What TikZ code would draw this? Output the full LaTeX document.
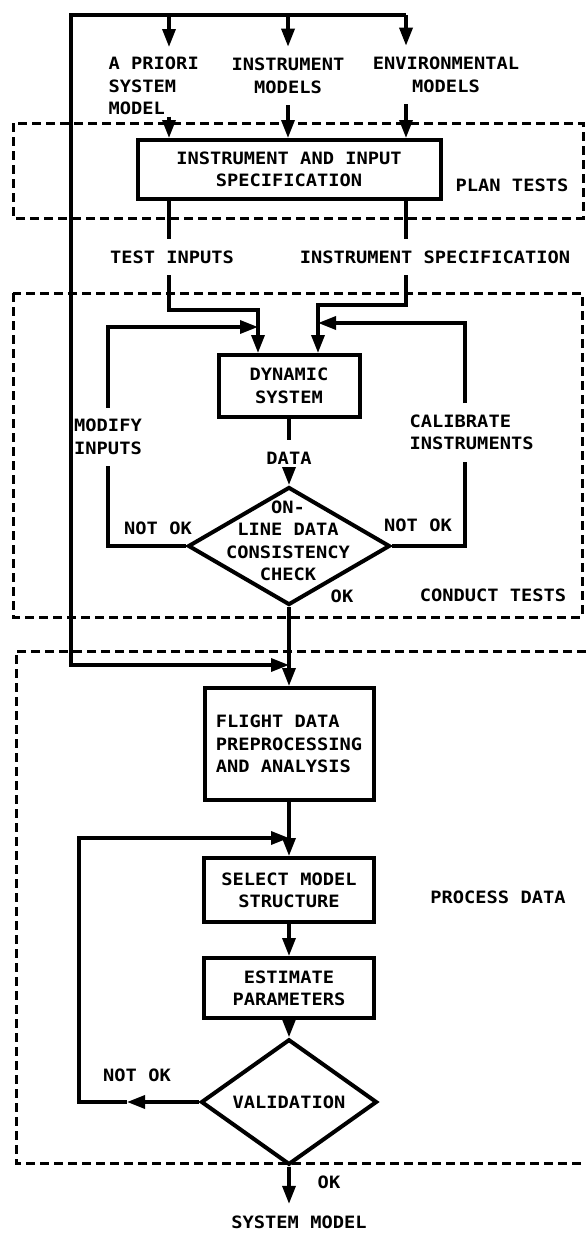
\documentclass[tikz,border=0pt]{standalone}
\usepackage{fontspec}
\newfontfamily\diafont[FakeStretch=1.1]{DejaVu Sans Mono}
\usetikzlibrary{arrows.meta,shapes.geometric}

\begin{document}
\begin{tikzpicture}[x=0.5pt, y=-0.5pt, line width=1.7pt,
    >={Triangle[length=9pt,width=6.5pt]},
    every node/.style={font={\diafont\bfseries\fontsize{8.5}{11.2}\selectfont}},
    lbl/.style={inner sep=0pt, align=center},
    gap/.style={inner xsep=0pt, inner ysep=5pt, align=center},
    block/.style={draw, line width=2pt, inner sep=0pt, align=center},
    test/.style={draw, diamond, line width=2pt, inner sep=0pt},
    phase/.style={draw, line width=1.5pt, dash pattern=on 4.5pt off 2.5pt}]
    \useasboundingbox (0,0) rectangle (586,1233);

    % plan tests
    \node[lbl, align=left, anchor=west] (APR) at (107, 86) {A PRIORI\\SYSTEM\\MODEL};
    \node[gap] (INM) at (288, 76) {INSTRUMENT\\MODELS};
    \node[gap] (ENV) at (446, 75) {ENVIRONMENTAL\\MODELS};
    \node[block, minimum width=151.5pt, minimum height=29.5pt] (SPEC) at (289, 169.5) {INSTRUMENT AND INPUT\\SPECIFICATION};
    \node[lbl] (PT) at (512, 185) {PLAN TESTS};
    \node[gap] (TI) at (172, 257) {TEST INPUTS};
    \node[gap] (IS) at (435, 257) {INSTRUMENT SPECIFICATION};

    % conduct tests
    \node[block, minimum width=70.5pt, minimum height=31pt] (DYN) at (289, 386) {DYNAMIC\\SYSTEM};
    \node[gap] (DATA) at (289, 458) {DATA};
    \node[test, minimum width=101pt, minimum height=59pt] (CHK) at (289, 546) {};
    \node[lbl] (CHKT) at (288, 541) {ON-\\LINE DATA\\CONSISTENCY\\CHECK};
    \node[gap] (MI) at (108, 437) {MODIFY\\INPUTS};
    \node[gap, align=left, anchor=west] (CI) at (408, 432.5) {CALIBRATE\\INSTRUMENTS};
    \node[lbl] (NOK1) at (158, 528) {NOT OK};
    \node[lbl] (NOK2) at (418, 525) {NOT OK};
    \node[lbl] (OK1) at (342, 596) {OK};
    \node[lbl] (CT) at (493, 595) {CONDUCT TESTS};

    % process data
    \node[block, align=left, minimum width=84.5pt, minimum height=56pt] (FDP) at (289, 744) {FLIGHT DATA\\PREPROCESSING\\AND ANALYSIS};
    \node[block, minimum width=85pt, minimum height=32pt] (SEL) at (289, 890) {SELECT MODEL\\STRUCTURE};
    \node[block, minimum width=85pt, minimum height=30pt] (EST) at (289, 988) {ESTIMATE\\PARAMETERS};
    \node[test, minimum width=88pt, minimum height=55pt] (VAL) at (289, 1102) {VALIDATION};
    \node[lbl] (PD) at (498, 897) {PROCESS DATA};
    \node[lbl] (NOK3) at (137, 1075) {NOT OK};
    \node[lbl] (OK2) at (329, 1182) {OK};
    \node[gap] (SM) at (299, 1222) {SYSTEM MODEL};

    \coordinate (TL) at (71, 15);
    \coordinate (C1) at (169, 15);
    \coordinate (C2) at (288, 15);
    \coordinate (C3) at (406, 15);
    \coordinate (A1) at (169, 47);
    \coordinate (TJ) at (258, 310);
    \coordinate (IJ) at (318, 305);
    \coordinate (MJ) at (258, 327);
    \coordinate (CX) at (465, 323);
    \coordinate (CJ) at (318, 323);
    \coordinate (J1) at (289, 665);
    \coordinate (J2) at (289, 838);
    \coordinate (VL) at (127, 1102);
    \coordinate (LB) at (79, 1102);

    \draw[phase] (13, 123) rectangle (583, 218);
    \draw[phase] (13, 293) rectangle (582, 617);
    \draw[phase] (586, 651) -- (16, 651) -- (16, 1163) -- (586, 1163);

    \draw[->] (C3) -- (TL) |- (J1);
    \draw[->] (C1) -- (A1);
    \draw[->] (C2) -- (INM);
    \draw[->] (C3) -- (ENV.north -| C3);
    \draw[->] (C1 |- APR.south) -- (C1 |- SPEC.north);
    \draw[->] (INM.south -| C2) -- (C2 |- SPEC.north);
    \draw[->] (ENV.south -| C3) -- (C3 |- SPEC.north);
    \draw (C1 |- SPEC.south) -- (C1 |- TI.north);
    \draw (C3 |- SPEC.south) -- (C3 |- IS.north);
    \draw[->] (C1 |- TI.south) |- (TJ) -- (TJ |- DYN.north);
    \draw[->] (C3 |- IS.south) |- (IJ) -- (IJ |- DYN.north);

    \draw (DYN.south) -- (DATA.north);
    \draw[->] (DATA.south) -- (CHK.north);
    \draw (CHK.west) -| (MI.south);
    \draw[->] (MI.north) |- (MJ);
    \draw (CHK.east) -| (CX |- CI.south);
    \draw[->] (CX |- CI.north) -- (CX) -- (CJ);

    \draw[->] (CHK.south) -- (FDP.north);
    \draw[->] (FDP.south) -- (SEL.north);
    \draw[->] (SEL.south) -- (EST.north);
    \draw[->] (EST.south) -- (VAL.north);
    \draw[->] (VAL.west) -- (VL);
    \draw[->] (VL) -- (LB) |- (J2);
    \draw[->] (VAL.south) -- (VAL.south |- SM.north);
\end{tikzpicture}
\end{document}
